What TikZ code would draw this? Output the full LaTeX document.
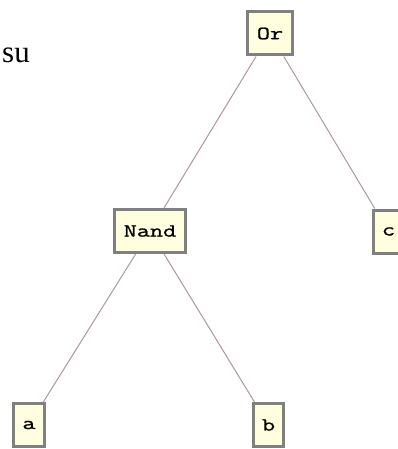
\documentclass[tikz,border=0pt]{standalone}
\usepackage{fontspec}
\setmainfont{Liberation Serif}
\newfontfamily\treefont[FakeStretch=1.38,FakeBold=1.2]{Latin Modern Mono}
\definecolor{boxfill}{RGB}{255,255,224}
\definecolor{boxline}{RGB}{128,128,128}
\definecolor{edgecol}{RGB}{172,152,152}
\tikzset{
  treenode/.style={draw=boxline, fill=boxfill, line width=3pt, inner sep=0pt,
    minimum height=43pt, font=\treefont\fontsize{18.5}{18.5}\selectfont, text=black},
  treeedge/.style={draw=edgecol, line width=1pt}
}
\begin{document}
\begin{tikzpicture}[x=1pt, y=-1pt]
  \useasboundingbox (0,0) rectangle (398,449);
  \node[anchor=base west, inner sep=0pt, font=\fontsize{31}{31}\selectfont] (lbl) at (2,63) {su};
  \node[treenode, minimum width=45pt] (or)   at (270,33.5) {Or};
  \node[treenode, minimum width=71pt] (nand) at (150,231)  {Nand};
  \node[treenode, minimum width=30pt] (c)    at (388.5,231.5) {c};
  \node[treenode, minimum width=31pt] (a)    at (29,425)   {a};
  \node[treenode, minimum width=30pt] (b)    at (268.5,425) {b};
  \draw[treeedge] (or) -- (nand);
  \draw[treeedge] (or) -- (c);
  \draw[treeedge] (nand) -- (a);
  \draw[treeedge] (nand) -- (b);
\end{tikzpicture}
\end{document}
